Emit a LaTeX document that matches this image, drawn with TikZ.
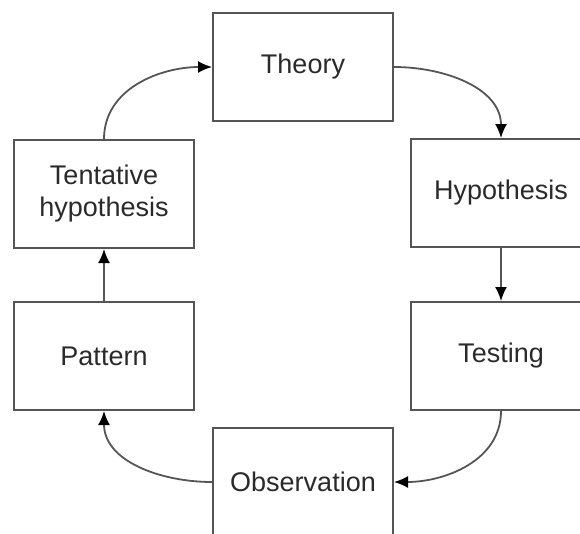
\documentclass[tikz,border=0pt]{standalone}
\usepackage{fontspec}
\setmainfont{Liberation Sans}
\usetikzlibrary{arrows.meta}
\definecolor{linegray}{HTML}{555555}
\definecolor{textgray}{HTML}{2A2A2A}
\begin{document}
\begin{tikzpicture}[x=1pt,y=-1pt,
  boxstyle/.style={draw=linegray, line width=2pt, minimum width=180pt, minimum height=108pt,
    inner sep=0pt, align=center, text=textgray, font=\fontsize{27}{32}\selectfont},
  conn/.style={draw=linegray, line width=1.8pt, -{Latex[length=14pt,width=12pt,color=black]}}]
\useasboundingbox (0,0) rectangle (580,533);
\node[boxstyle] (theory) at (303,67) {Theory};
\node[boxstyle] (tent) at (104,194) {Tentative\\hypothesis};
\node[boxstyle] (hyp) at (501,193) {Hypothesis};
\node[boxstyle] (pattern) at (104,356) {Pattern};
\node[boxstyle] (testing) at (501,356) {Testing};
\node[boxstyle] (obs) at (303,482) {Observation};
\draw[conn] (tent.north) to[out=90,in=180] (theory.west);
\draw[conn] (theory.east) to[out=0,in=90] (hyp.north);
\draw[conn] (hyp.south) -- (testing.north);
\draw[conn] (testing.south) to[out=-90,in=0] (obs.east);
\draw[conn] (obs.west) to[out=180,in=-90] (pattern.south);
\draw[conn] (pattern.north) -- (tent.south);
\end{tikzpicture}
\end{document}
